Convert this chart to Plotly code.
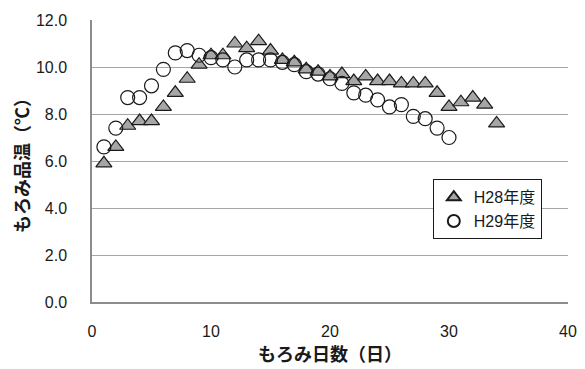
import plotly.graph_objects as go

days_h28 = list(range(1, 35))
temp_h28 = [5.9, 6.6, 7.5, 7.7, 7.7, 8.3, 8.9, 9.5, 10.1, 10.5,
            10.5, 11.0, 10.8, 11.1, 10.7, 10.3, 10.2, 9.9, 9.8, 9.6,
            9.7, 9.4, 9.6, 9.4, 9.4, 9.3, 9.3, 9.3, 8.9, 8.3,
            8.5, 8.7, 8.4, 7.6]

days_h29 = list(range(1, 31))
temp_h29 = [6.6, 7.4, 8.7, 8.7, 9.2, 9.9, 10.6, 10.7, 10.5, 10.4,
            10.3, 10.0, 10.3, 10.3, 10.3, 10.2, 10.1, 9.8, 9.7, 9.5,
            9.3, 8.9, 8.8, 8.6, 8.3, 8.4, 7.9, 7.8, 7.4, 7.0]

series_names = ["H28年度", "H29年度"]

font_family = "Liberation Sans, Noto Sans CJK JP"
title_font = "Noto Sans CJK JP"

fig = go.Figure()
fig.add_trace(go.Scatter(
    x=days_h28, y=temp_h28, mode="markers", name=series_names[0],
    marker=dict(symbol="triangle-up", size=14, color="#a6a6a6",
                line=dict(color="#1a1a1a", width=1.2)),
))
fig.add_trace(go.Scatter(
    x=days_h29, y=temp_h29, mode="markers", name=series_names[1],
    marker=dict(symbol="circle", size=14, color="rgba(255,255,255,0)",
                line=dict(color="#1a1a1a", width=1.2)),
))

# page body has an 8px margin, so the figure is sized/offset to compensate
fig.update_layout(
    width=577, height=361,
    margin=dict(l=84, r=17, t=12, b=67, autoexpand=False),
    paper_bgcolor="white", plot_bgcolor="white",
    font=dict(family=font_family, size=16, color="#1a1a1a"),
    showlegend=True,
    legend=dict(
        x=0.716, y=0.435, xanchor="left", yanchor="top",
        bgcolor="white", bordercolor="#1a1a1a", borderwidth=1,
        font=dict(family=font_family, size=16, color="#1a1a1a"),
        tracegroupgap=0, itemsizing="constant",
    ),
    xaxis=dict(
        range=[0, 40], dtick=10, tick0=0, automargin=False,
        showgrid=False, zeroline=False,
        showline=True, linecolor="#8c8c8c", linewidth=1.5,
        ticks="", ticklabelstandoff=14,
        title=dict(text="<b>もろみ日数（日）</b>", standoff=4,
                   font=dict(family=title_font, size=18, color="#1a1a1a")),
    ),
    yaxis=dict(
        range=[0, 12], dtick=2, tick0=0, tickformat=".1f", automargin=False,
        showgrid=True, gridcolor="#a6a6a6", gridwidth=1.2,
        zeroline=False,
        showline=True, linecolor="#8c8c8c", linewidth=1.5,
        ticks="", ticklabelstandoff=20,
        title=dict(text="<b>もろみ品温（℃）</b>", standoff=6,
                   font=dict(family=title_font, size=18, color="#1a1a1a")),
    ),
)

fig.write_html("out.html")
